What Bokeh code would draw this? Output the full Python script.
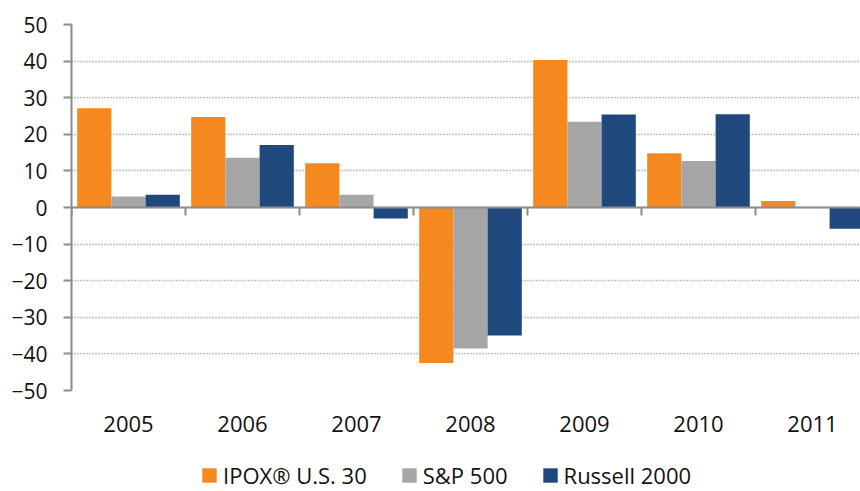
import numpy as np
from bokeh.plotting import figure
from bokeh.layouts import column
from bokeh.models import (ColumnDataSource, Range1d, FixedTicker, LinearAxis,
                          Legend, LegendItem, Grid, Span)
from bokeh.transform import dodge
from bokeh.embed import file_html
from bokeh.resources import INLINE

# ---- data ----
years = ["2005", "2006", "2007", "2008", "2009", "2010", "2011"]
ipox = [27.1, 24.7, 12.1, -42.5, 40.3, 14.8, 1.8]
sp500 = [3.0, 13.6, 3.5, -38.5, 23.4, 12.7, 0.0]
russell = [3.5, 17.1, -3.0, -35.0, 25.4, 25.5, -5.8]
series_names = ["IPOX® U.S. 30", "S&P 500", "Russell 2000"]
series_keys = ["ipox", "sp500", "russell"]
colors = ["#F5891F", "#A6A6A6", "#1F497D"]
y_ticks = list(range(-50, 51, 10))

FONT = "Open Sans"
AXIS_GRAY = "#8C8C8C"

n = len(years)
centers = np.arange(n) + 0.5
boundaries = np.arange(n + 1)
src = ColumnDataSource(dict(x=centers, ipox=ipox, sp500=sp500, russell=russell))

W = 860
H_MAIN = 446
H_LEG = 491 - H_MAIN
LEFT = 71
TOP = 24
FRAME_H = 366
UNIT = 114  # px per category
Y_MIN, Y_MAX = min(y_ticks), max(y_ticks)
TICK_PX = 8
tick_len = TICK_PX * (Y_MAX - Y_MIN) / FRAME_H  # category-boundary tick length in data units

p = figure(width=W, height=H_MAIN, output_backend="svg", toolbar_location=None,
           x_range=Range1d(0, (W - LEFT) / UNIT), y_range=Range1d(Y_MIN, Y_MAX),
           min_border_left=LEFT, min_border_right=0, min_border_top=TOP,
           min_border_bottom=H_MAIN - TOP - FRAME_H,
           x_axis_location=None, y_axis_location=None)
p.outline_line_color = None
p.background_fill_color = "white"
p.border_fill_color = "white"
p.center = [r for r in p.center if not isinstance(r, Grid)]

# horizontal dotted grid
grid = Grid(dimension=1, ticker=FixedTicker(ticks=y_ticks),
            grid_line_color="#8A8A8A", grid_line_dash="1 2", grid_line_width=1.5)
p.add_layout(grid, "center")

# bars
width = 0.3
offsets = [-width, 0.0, width]
for key, off, col in zip(series_keys, offsets, colors):
    p.vbar(x=dodge("x", off, range=p.x_range), top=key, bottom=0, width=width,
           source=src, fill_color=col, line_color=None)

# zero line with category-boundary tick marks
p.add_layout(Span(location=0, dimension="width", line_color=AXIS_GRAY, line_width=2))
p.segment(x0=boundaries, y0=np.zeros(n + 1), x1=boundaries,
          y1=np.full(n + 1, -tick_len), line_color=AXIS_GRAY, line_width=2)

# left axis
yaxis = LinearAxis(ticker=FixedTicker(ticks=y_ticks))
yaxis.axis_line_color = AXIS_GRAY
yaxis.axis_line_width = 2
yaxis.major_tick_line_color = AXIS_GRAY
yaxis.major_tick_line_width = 2
yaxis.major_tick_out = TICK_PX
yaxis.major_tick_in = 0
yaxis.minor_tick_line_color = None
yaxis.major_label_standoff = 16
yaxis.major_label_text_font = FONT
yaxis.major_label_text_font_size = "21px"
yaxis.major_label_text_color = "#111111"
p.add_layout(yaxis, "left")

# bottom label axis (category names)
xaxis = LinearAxis(ticker=FixedTicker(ticks=list(centers)))
xaxis.major_label_overrides = {float(c): y for c, y in zip(centers, years)}
xaxis.axis_line_color = None
xaxis.major_tick_line_color = None
xaxis.minor_tick_line_color = None
xaxis.major_tick_in = 0
xaxis.major_tick_out = 0
xaxis.major_label_standoff = 25
xaxis.major_label_text_font = FONT
xaxis.major_label_text_font_size = "22px"
xaxis.major_label_text_color = "#111111"
p.add_layout(xaxis, "below")

# ---- legend strip (separate small figure, series drawn off-screen) ----
lf = figure(width=W, height=H_LEG, output_backend="svg", toolbar_location=None,
            x_range=Range1d(100, 101), y_range=Range1d(100, 101),
            min_border=0, min_border_left=0, min_border_right=0,
            min_border_top=0, min_border_bottom=0,
            x_axis_location=None, y_axis_location=None)
lf.outline_line_color = None
lf.center = [r for r in lf.center if not isinstance(r, Grid)]
leg_renderers = []
for key, col in zip(series_keys, colors):
    r = lf.vbar(x="x", top=key, bottom=0, width=width, source=src,
                fill_color=col, line_color=None)
    leg_renderers.append(r)

items = [LegendItem(label=nm, renderers=[r]) for nm, r in zip(series_names, leg_renderers)]
legend = Legend(items=items, orientation="horizontal", location=(129, 1),
                glyph_width=18, glyph_height=18, label_standoff=5, spacing=33,
                padding=0, margin=0, border_line_color=None, background_fill_alpha=0,
                label_text_font=FONT, label_text_font_size="22px",
                label_text_color="#111111")
lf.add_layout(legend, "center")

layout = column(p, lf, spacing=0)
open("out.html", "w").write(file_html(layout, INLINE))
